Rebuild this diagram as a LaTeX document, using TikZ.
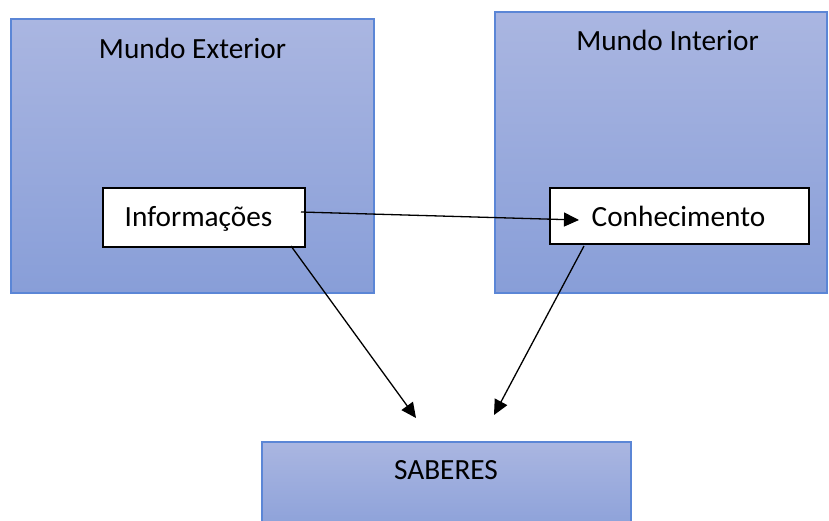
\documentclass[tikz,border=0pt]{standalone}
\usepackage{fontspec}
\setmainfont{Carlito}
\usetikzlibrary{arrows.meta}
\definecolor{gtop}{RGB}{170,182,225}
\definecolor{gbot}{RGB}{136,158,216}
\definecolor{gedge}{RGB}{91,134,214}
\tikzset{
  world/.style={draw=gedge, line width=1.3pt, top color=gtop, bottom color=gbot, inner sep=0pt},
  whitebox/.style={draw=black, line width=1.6pt, fill=white, inner sep=0pt},
  lbl/.style={font=\fontsize{29.3}{35}\selectfont, anchor=base, inner sep=0pt},
  conn/.style={line width=1.3pt, -{Triangle[length=15pt,width=14pt]}}
}
\begin{document}
\begin{tikzpicture}[x=1pt,y=-1pt]
\useasboundingbox (0,0) rectangle (829,520);
\node[world, minimum width=363pt, minimum height=274pt] (ext) at (192.5,156) {};
\node[world, minimum width=332pt, minimum height=281pt] (int) at (661,152.5) {};
\node[world, minimum width=369pt, minimum height=100pt] (sab) at (446.5,492) {};
\node[lbl] (extT) at (192.5,58) {Mundo Exterior};
\node[lbl] (intT) at (667.5,50) {Mundo Interior};
\node[whitebox, minimum width=202pt, minimum height=59pt] (inf) at (204,217.5) {};
\node[whitebox, minimum width=259pt, minimum height=56pt] (con) at (679.5,216) {};
\node[lbl] (infT) at (198.5,226.7) {Informações};
\node[lbl] (conT) at (678.5,226.7) {Conhecimento};
\node[lbl] (sabT) at (446,479) {SABERES};
\coordinate (t1) at (579,220);
\coordinate (t2) at (416,418);
\coordinate (t3) at (494,415);
\coordinate (s1) at (301,212);
\coordinate (s2) at (291,246);
\coordinate (s3) at (584,246);
\draw[conn] (s1) -- (t1);
\draw[conn] (s2) -- (t2);
\draw[conn] (s3) -- (t3);
\end{tikzpicture}
\end{document}
